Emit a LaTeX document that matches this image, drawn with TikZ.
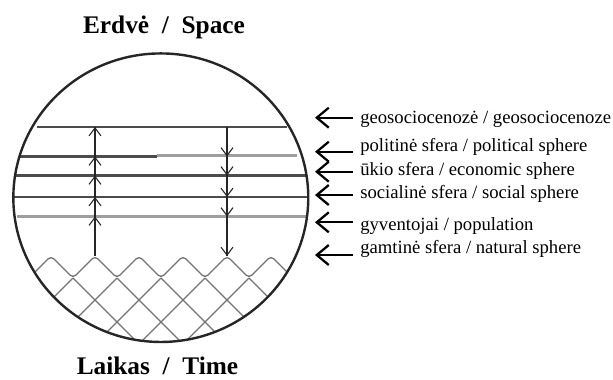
\documentclass[tikz,border=0pt]{standalone}
\usepackage{fontspec}
\setmainfont{Liberation Serif}
\usetikzlibrary{arrows.meta}
\begin{document}
\begin{tikzpicture}[x=0.75pt,y=-0.75pt,
  lbl/.style={anchor=base west,inner sep=0pt,font=\fontsize{14}{16}\selectfont},
  ttl/.style={anchor=base,inner sep=0pt,font=\fontsize{19}{22}\selectfont\bfseries},
  lblarrow/.style={line width=1.7pt,-{Straight Barb[length=9pt,width=15pt]}},
  layer/.style={line width=1.7pt,black!70},
  layerlight/.style={line width=2pt,black!38},
  flow/.style={line width=0.9pt,black!85},
  fhead/.style={line width=0.8pt,black!85,-{Straight Barb[length=6pt,width=9pt]}},
  net/.style={line width=1pt,black!55},
  rim/.style={line width=1.8pt,black!85}
]
\useasboundingbox (0,0) rectangle (613,379);

% titles
\node[ttl] (space) at (164,33) {Erdvė~~/~~Space};
\node[ttl] (time) at (157.5,374) {Laikas~~/~~Time};

\begin{scope}
  \clip (160.8,197.7) ellipse [x radius=110.6pt, y radius=108.2pt];
  % layers
  \draw[layer] (37,127) -- (287,127);
  \draw[layer] (0,156.5) -- (157,156.5);
  \draw[layerlight] (157,155.5) -- (297,155.5);
  \draw[layer] (0,175.5) -- (320,175.5);
  \draw[layer] (0,197) -- (320,197);
  \draw[layerlight] (17,216.5) -- (320,216.5);
  % lattice
  \foreach \k in {0,...,6} {
    \draw[net] (29+44*\k,278) -- (129+44*\k,378);
    \draw[net] (29+44*\k,278) -- (-71+44*\k,378);
  }
  % wave
  \draw[net,rounded corners=3pt] (29,278) -- (51,256) -- (73,278) -- (95,256) -- (117,278)
    -- (139,256) -- (161,278) -- (183,256) -- (205,278) -- (227,256) -- (249,278)
    -- (271,256) -- (293,278);
\end{scope}

% flows
\coordinate (upb) at (95,256);
\coordinate (upt) at (95,127);
\coordinate (dnt) at (227,127);
\coordinate (dnb) at (227,256);
\draw[flow] (upb) -- (upt);
\draw[flow] (dnt) -- (dnb);
\foreach \y in {127,156.5,175.5,197,216.5}
  \draw[fhead] (95,\y+11) -- (95,\y);
\foreach \y in {156.5,175.5,197,216.5,256}
  \draw[fhead] (227,\y-11) -- (227,\y);

% rim
\draw[rim] (160.8,197.7) ellipse [x radius=110.6pt, y radius=108.2pt];

% labels
\node[lbl] (l1) at (360,123.3) {geosociocenozė / geosociocenoze};
\node[lbl] (l2) at (360,151) {politinė sfera / political sphere};
\node[lbl] (l3) at (360,175) {ūkio sfera / economic sphere};
\node[lbl] (l4) at (360,198.3) {socialinė sfera / social sphere};
\node[lbl] (l5) at (360,230) {gyventojai / population};
\node[lbl] (l6) at (360,253.3) {gamtinė sfera / natural sphere};

\coordinate (a1) at (353,117.7); \coordinate (t1) at (315,117.7);
\coordinate (a2) at (353,151.7); \coordinate (t2) at (315,151.7);
\coordinate (a3) at (353,171.7); \coordinate (t3) at (315,171.7);
\coordinate (a4) at (353,195);   \coordinate (t4) at (315,195);
\coordinate (a5) at (353,222.3); \coordinate (t5) at (315,222.3);
\coordinate (a6) at (353,255);   \coordinate (t6) at (315,255);
\foreach \i in {1,...,6}
  \draw[lblarrow] (a\i) -- (t\i);
\end{tikzpicture}
\end{document}
